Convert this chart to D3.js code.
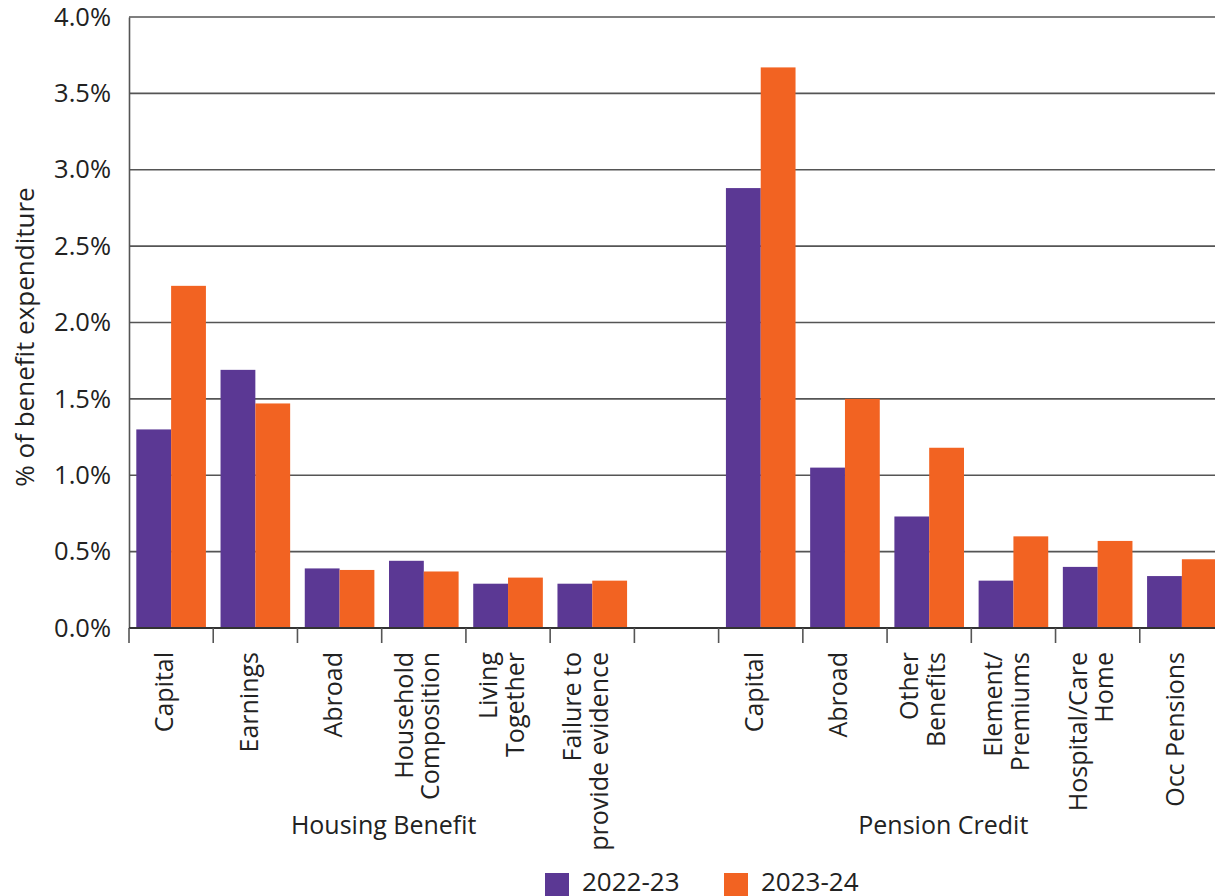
<!DOCTYPE html>
<html>
<head>
<meta charset="utf-8">
<script src="https://cdn.jsdelivr.net/npm/d3@7"></script>
<style>
  html, body { margin: 0; padding: 0; background: #fff; overflow: hidden; }
  svg { display: block; font-family: "Open Sans", "Noto Sans", sans-serif; }
</style>
</head>
<body>
<svg id="chart" width="1215" height="896"></svg>
<script>
// ---- data ----
const categories = [
  "Capital", "Earnings", "Abroad", "Household\nComposition", "Living\nTogether",
  "Failure to\nprovide evidence", "",
  "Capital ", "Abroad ", "Other\nBenefits", "Element/\nPremiums", "Hospital/Care\nHome", "Occ Pensions"
];
const series2022 = [1.30, 1.69, 0.39, 0.44, 0.29, 0.29, null, 2.88, 1.05, 0.73, 0.31, 0.40, 0.34];
const series2023 = [2.24, 1.47, 0.38, 0.37, 0.33, 0.31, null, 3.67, 1.50, 1.18, 0.60, 0.57, 0.45];
const seriesNames = ["2022-23", "2023-24"];
const seriesColors = ["#5b3894", "#f26322"];
const yTicks = [0, 0.5, 1.0, 1.5, 2.0, 2.5, 3.0, 3.5, 4.0];
const groups = [
  { name: "Housing Benefit", from: 0, to: 5 },
  { name: "Pension Credit", from: 7, to: 12 }
];
const yTitle = "% of benefit expenditure";

// ---- layout ----
const svg = d3.select("#chart");
const mLeft = 129, mRight = 1224, mTop = 17, mBottom = 628;
const txt = "#222";

const x = d3.scaleBand().domain(d3.range(categories.length)).range([mLeft, mRight]).padding(0);
const xInner = d3.scaleBand().domain([0, 1]).range([0, x.bandwidth()]).paddingOuter(0.21).paddingInner(0);
const y = d3.scaleLinear().domain([0, 4]).range([mBottom, mTop]);

// gridlines
svg.append("g")
  .selectAll("line")
  .data(yTicks)
  .join("line")
  .attr("x1", mLeft).attr("x2", 1215)
  .attr("y1", d => y(d)).attr("y2", d => y(d))
  .attr("stroke", "#555").attr("stroke-width", 1.6);

// bars
const data = categories.map((c, i) => ({ i, vals: [series2022[i], series2023[i]] }));
const bg = svg.append("g").selectAll("g").data(data).join("g")
  .attr("transform", d => `translate(${x(d.i)},0)`);
bg.selectAll("rect")
  .data(d => d.vals.map((v, s) => ({ v, s })).filter(e => e.v != null))
  .join("rect")
  .attr("x", e => xInner(e.s))
  .attr("width", xInner.bandwidth())
  .attr("y", e => y(e.v))
  .attr("height", e => y(0) - y(e.v))
  .attr("fill", e => seriesColors[e.s]);

// y axis
const yAxis = d3.axisLeft(y).tickValues(yTicks).tickSize(0).tickPadding(18)
  .tickFormat(d => d3.format(".1f")(d) + "%");
const ya = svg.append("g").attr("transform", `translate(${mLeft},0)`).call(yAxis);
ya.select(".domain").attr("stroke", "#555").attr("stroke-width", 1.6);
ya.selectAll("text").attr("font-size", 25.5).attr("fill", txt)
  .attr("font-family", "'Open Sans', sans-serif");

// x axis baseline + ticks at category boundaries
svg.append("line").attr("x1", mLeft).attr("x2", 1215).attr("y1", mBottom).attr("y2", mBottom)
  .attr("stroke", "#333").attr("stroke-width", 1.8);
const bounds = d3.range(categories.length + 1).map(i => mLeft + i * x.step());
svg.append("g").selectAll("line").data(bounds).join("line")
  .attr("x1", d => d).attr("x2", d => d)
  .attr("y1", mBottom).attr("y2", mBottom + 15)
  .attr("stroke", "#555").attr("stroke-width", 1.6);

// category labels (rotated)
const lab = svg.append("g").selectAll("g").data(categories).join("g")
  .attr("transform", (d, i) => `translate(${x(i) + x.bandwidth() / 2},652) rotate(-90)`);
lab.each(function(d) {
  const lines = d.trim() === "" ? [] : d.trim().split("\n");
  const n = lines.length;
  const t = d3.select(this).append("text")
    .attr("text-anchor", "end").attr("font-size", 25).attr("fill", txt);
  lines.forEach((ln, k) => {
    t.append("tspan").attr("x", 0)
      .attr("y", (k - (n - 1) / 2) * 26.5 - 6.5)
      .attr("dy", "0.35em")
      .text(ln);
  });
});

// group labels
svg.append("text").attr("x", (x(groups[0].from) + x(groups[0].to) + x.bandwidth()) / 2 + 2)
  .attr("y", 834).attr("text-anchor", "middle").attr("font-size", 25).attr("fill", txt)
  .text(groups[0].name);
svg.append("text").attr("x", (x(groups[1].from) + x(groups[1].to) + x.bandwidth()) / 2 - 28)
  .attr("y", 834).attr("text-anchor", "middle").attr("font-size", 25).attr("fill", txt)
  .text(groups[1].name);

// y title
svg.append("text")
  .attr("transform", "translate(34,337) rotate(-90)")
  .attr("text-anchor", "middle").attr("font-size", 26).attr("fill", txt)
  .text(yTitle);

// legend
const legX = [545, 724];
const leg = svg.append("g").selectAll("g").data(seriesNames).join("g")
  .attr("transform", (d, i) => `translate(${legX[i]},873)`);
leg.append("rect").attr("width", 24).attr("height", 24).attr("fill", (d, i) => seriesColors[i]);
leg.append("text").attr("x", 37).attr("y", 18).attr("font-size", 26).attr("fill", txt).text(d => d);
</script>
</body>
</html>
